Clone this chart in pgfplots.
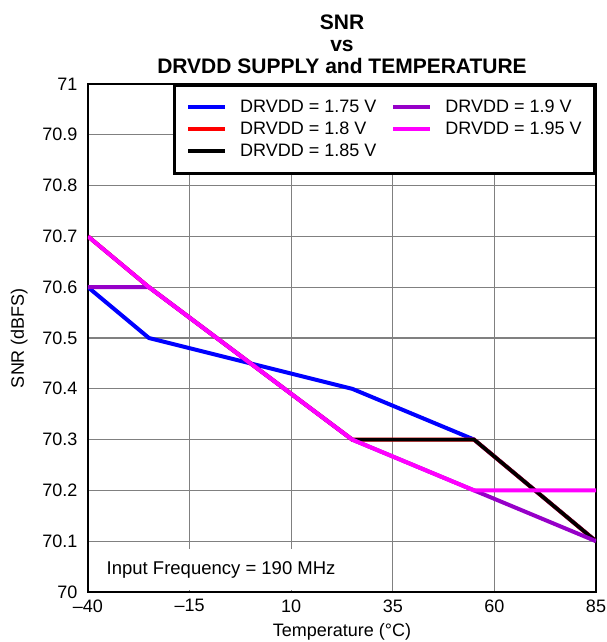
\documentclass[border=0pt]{standalone}
\usepackage{pgfplots}
\pgfplotsset{compat=1.18}
\usepackage{fontspec}
\setmainfont{Liberation Sans}
\usetikzlibrary{calc}
\definecolor{c175}{RGB}{0,0,255}
\definecolor{c180}{RGB}{255,0,0}
\definecolor{c185}{RGB}{0,0,0}
\definecolor{c190}{RGB}{150,0,200}
\definecolor{c195}{RGB}{255,0,255}
\definecolor{gridgrey}{RGB}{128,128,128}

\begin{document}
\begin{tikzpicture}
\begin{axis}[
scale only axis,
width=508pt,
height=508pt,
xmin=-40, xmax=85,
ymin=70, ymax=71,
xtick={-40,-15,10,35,60,85},
xticklabels={--40,--15,10,35,60,85},
ytick={70,70.1,70.2,70.3,70.4,70.5,70.6,70.7,70.8,70.9,71},
yticklabel style={xshift=-7pt, /pgf/number format/.cd, fixed, precision=1, assume math mode=true},
xticklabel style={yshift=-4pt},
major tick length=0pt,
grid=major,
major grid style={gridgrey, line width=1.3pt},
axis line style={line width=2.6pt},
tick label style={font=\fontsize{18}{21}\selectfont},
label style={font=\fontsize{18}{21}\selectfont},
xlabel={Temperature (°C)},
ylabel={SNR (dBFS)},
xlabel style={yshift=-4pt},
ylabel style={yshift=8pt},
title={SNR\\vs\\DRVDD SUPPLY and TEMPERATURE},
title style={align=center, font=\bfseries\fontsize{21}{22}\selectfont, yshift=1pt},
legend columns=2,
legend cell align=left,
legend style={at={(1,1)}, anchor=north east, draw=black, line width=2.6pt, fill=white,
  font=\fontsize{18}{21}\selectfont, inner xsep=12pt, inner ysep=11pt,
  /tikz/every odd column/.append style={column sep=12pt},
  /tikz/every even column/.append style={column sep=14pt},
  nodes={inner xsep=1pt, inner ysep=1.5pt, text height=14.8pt, text depth=4.2pt}},
legend image code/.code={\draw[#1, line width=4pt] (0pt,0pt) -- (37pt,0pt);},
]
% legend entries in the order the reference shows them
\addlegendimage{c175}\addlegendentry{DRVDD = 1.75 V}
\addlegendimage{c190}\addlegendentry{DRVDD = 1.9 V}
\addlegendimage{c180}\addlegendentry{DRVDD = 1.8 V}
\addlegendimage{c195}\addlegendentry{DRVDD = 1.95 V}
\addlegendimage{c185}\addlegendentry{DRVDD = 1.85 V}

\addplot[c175, line width=4pt, forget plot] coordinates {
(-40,70.6) (-25,70.5) (25,70.4) (55,70.3) (85,70.1)};
\addplot[c180, line width=4pt, forget plot] coordinates {
(-40,70.7) (-25,70.6) (25,70.3) (55,70.3) (85,70.1)};
\addplot[c185, line width=3.5pt, forget plot] coordinates {
(-40,70.7) (-25,70.6) (25,70.3) (55,70.3) (85,70.1)};
\addplot[c190, line width=4pt, forget plot] coordinates {
(-40,70.6) (-25,70.6) (25,70.3) (55,70.2) (85,70.1)};
\addplot[c195, line width=4pt, forget plot] coordinates {
(-40,70.7) (-25,70.6) (25,70.3) (55,70.2) (85,70.2)};

\node[anchor=south west, fill=white, inner xsep=0pt, minimum height=41pt,
  font=\fontsize{18.5}{21}\selectfont, xshift=1.5pt, yshift=1.5pt]
  at (rel axis cs:0,0) {\hspace{17pt}Input Frequency = 190 MHz\hspace{10pt}};
\coordinate (bl) at (rel axis cs:0,0);
\coordinate (tr) at (rel axis cs:1,1);
\end{axis}
\pgfresetboundingbox
\path ($(bl)+(-88pt,-50pt)$) rectangle ($(tr)+(10pt,84pt)$);
\end{tikzpicture}
\end{document}
